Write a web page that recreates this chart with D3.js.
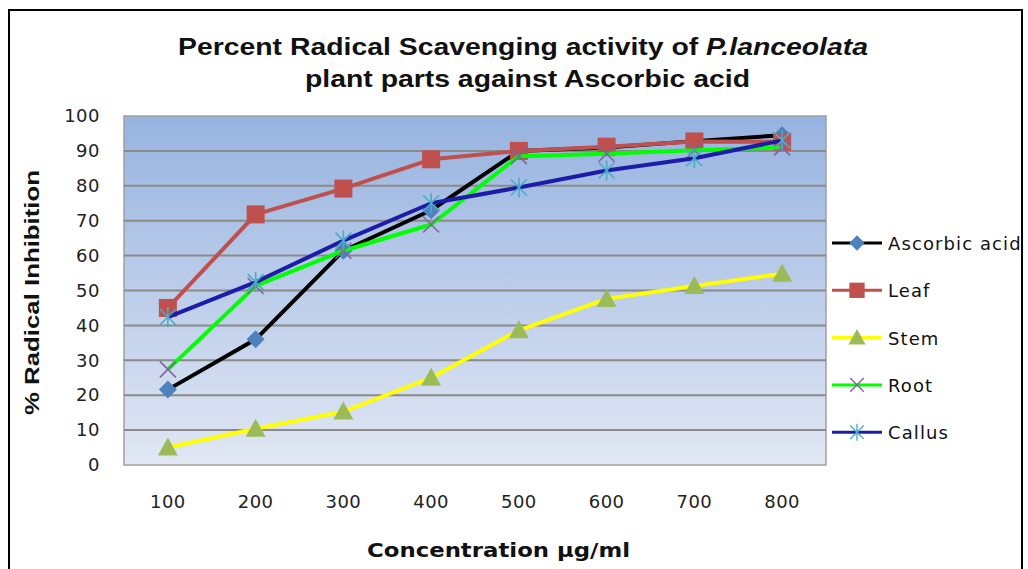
<!DOCTYPE html>
<html>
<head>
<meta charset="utf-8">
<script src="https://cdn.jsdelivr.net/npm/d3@7"></script>
<style>
  body { margin: 0; background: #fff; }
  svg { display: block; }
</style>
</head>
<body>
<div id="plot"></div>
<script>
// concentrations (x categories)
const concentrations = ["100", "200", "300", "400", "500", "600", "700", "800"];
const yTicks = [0, 10, 20, 30, 40, 50, 60, 70, 80, 90, 100];

const ascorbic = [21.6, 36, 61.4, 73, 90, 91, 92.8, 94.5];
const leaf     = [45, 71.8, 79.2, 87.6, 90, 91.2, 92.7, 92.6];
const stem     = [5, 10.4, 15.3, 25, 38.6, 47.6, 51.3, 54.8];
const root     = [27.4, 51.3, 61.4, 68.9, 88.5, 89.2, 90.2, 91];
const callus   = [42.4, 52.4, 64.3, 75, 79.5, 84.4, 87.9, 93];

const seriesNames = ["Ascorbic acid", "Leaf", "Stem", "Root", "Callus"];
const seriesValues = [ascorbic, leaf, stem, root, callus];
const lineColors = ["#000000", "#c0504d", "#ffff00", "#00ff00", "#1c1ca8"];
const markerColors = ["#4f81bd", "#c0504d", "#9bbb59", "#8064a2", "#4bacc6"];
const markerTypes = ["diamond", "square", "triangle", "x", "asterisk"];

const W = 1028, H = 569;
const margin = { top: 116, right: 202, bottom: 104, left: 124 };
const width = W - margin.left - margin.right;
const height = H - margin.top - margin.bottom;
const tickFont = "DejaVu Sans, Verdana, sans-serif";

const svg = d3.select("#plot").append("svg")
  .attr("width", W)
  .attr("height", H);

// outer frame
svg.append("path")
  .attr("d", `M9,${H + 5}V10H1022V${H + 5}`)
  .attr("fill", "none")
  .attr("stroke", "#000")
  .attr("stroke-width", 2);

const defs = svg.append("defs");
const grad = defs.append("linearGradient")
  .attr("id", "bg").attr("x1", 0).attr("y1", 0).attr("x2", 0).attr("y2", 1);
grad.append("stop").attr("offset", "0%").attr("stop-color", "#96b3e0");
grad.append("stop").attr("offset", "100%").attr("stop-color", "#e1e7f3");

const g = svg.append("g")
  .attr("transform", `translate(${margin.left},${margin.top})`);

const x = d3.scaleBand()
  .domain(concentrations)
  .range([0, width]);

const y = d3.scaleLinear()
  .domain([0, 100])
  .range([height, 0]);

g.append("rect")
  .attr("width", width)
  .attr("height", height)
  .attr("fill", "url(#bg)")
  .attr("stroke", "#a0a0a0")
  .attr("stroke-width", 1.5);

// gridlines
g.append("g")
  .selectAll("line")
  .data(yTicks.slice(1, -1))
  .join("line")
  .attr("x1", 0).attr("x2", width)
  .attr("y1", d => y(d)).attr("y2", d => y(d))
  .attr("stroke", "#8a8a8a")
  .attr("stroke-width", 2);

// y axis
const yAxis = g.append("g")
  .attr("transform", "translate(-24,0)")
  .call(d3.axisLeft(y).tickValues(yTicks).tickSize(0).tickPadding(0));
yAxis.select(".domain").remove();
yAxis.selectAll("text")
  .attr("font-family", tickFont)
  .attr("font-size", 18)
  .attr("letter-spacing", 0.5)
  .attr("fill", "#222");

// x axis
const xAxis = g.append("g")
  .attr("transform", `translate(0,${height + 30})`)
  .call(d3.axisBottom(x).tickSize(0).tickPadding(0));
xAxis.select(".domain").remove();
xAxis.selectAll("text")
  .attr("font-family", tickFont)
  .attr("font-size", 18)
  .attr("letter-spacing", 0.5)
  .attr("fill", "#222");

// marker shapes
function drawMarker(sel, type, color) {
  if (type === "diamond") {
    sel.append("path").attr("d", "M0,-9L9,0L0,9L-9,0Z").attr("fill", color);
  } else if (type === "square") {
    sel.append("rect").attr("x", -9).attr("y", -9).attr("width", 18).attr("height", 18).attr("fill", color);
  } else if (type === "triangle") {
    sel.append("path").attr("d", "M0,-10L10,8L-10,8Z").attr("fill", color);
  } else if (type === "x") {
    sel.append("path").attr("d", "M-8,-8L8,8M-8,8L8,-8").attr("stroke", color).attr("stroke-width", 1.6).attr("fill", "none");
  } else {
    sel.append("path").attr("d", "M-8,-8L8,8M-8,8L8,-8M0,-10V10").attr("stroke", color).attr("stroke-width", 1.6).attr("fill", "none");
  }
}

const line = d3.line()
  .x((d, i) => x(concentrations[i]) + x.bandwidth() / 2)
  .y(d => y(d));

seriesValues.forEach((vals, k) => {
  const sg = g.append("g");
  sg.append("path")
    .datum(vals)
    .attr("d", line)
    .attr("fill", "none")
    .attr("stroke", lineColors[k])
    .attr("stroke-width", 4)
    .attr("stroke-linejoin", "round");
  sg.selectAll("g.m")
    .data(vals)
    .join("g")
    .attr("class", "m")
    .attr("transform", (d, i) => `translate(${x(concentrations[i]) + x.bandwidth() / 2},${y(d)})`)
    .each(function() { drawMarker(d3.select(this), markerTypes[k], markerColors[k]); });
});

// legend
const legend = svg.append("g").attr("transform", "translate(832,243)");
seriesNames.forEach((name, k) => {
  const lg = legend.append("g").attr("transform", `translate(0,${k * 47.3})`);
  lg.append("line").attr("x1", 0).attr("x2", 50).attr("stroke", lineColors[k]).attr("stroke-width", 3);
  const mg = lg.append("g").attr("transform", "translate(25,0) scale(0.85)");
  drawMarker(mg, markerTypes[k], markerColors[k]);
  lg.append("text")
    .attr("x", 56).attr("y", 7)
    .attr("font-family", tickFont)
    .attr("font-size", 18)
    .attr("letter-spacing", 1.1)
    .attr("fill", "#111")
    .text(name);
});

// title, two lines stretched to the reference widths
const titleFont = "Liberation Sans, Arial, sans-serif";
const t1 = svg.append("text")
  .attr("x", 178).attr("y", 55)
  .attr("font-family", titleFont)
  .attr("font-weight", "bold")
  .attr("font-size", 23)
  .attr("textLength", 690)
  .attr("lengthAdjust", "spacingAndGlyphs")
  .attr("fill", "#111");
t1.append("tspan").text("Percent Radical Scavenging activity of ");
t1.append("tspan").attr("font-style", "italic").text("P.lanceolata");

svg.append("text")
  .attr("x", 305).attr("y", 87)
  .attr("font-family", titleFont)
  .attr("font-weight", "bold")
  .attr("font-size", 23)
  .attr("textLength", 445)
  .attr("lengthAdjust", "spacingAndGlyphs")
  .attr("fill", "#111")
  .text("plant parts against Ascorbic acid");

// axis titles
svg.append("text")
  .attr("x", 367).attr("y", 557)
  .attr("font-family", tickFont)
  .attr("font-weight", "bold")
  .attr("font-size", 19)
  .attr("textLength", 263)
  .attr("lengthAdjust", "spacingAndGlyphs")
  .attr("fill", "#111")
  .text("Concentration μg/ml");

svg.append("text")
  .attr("transform", "translate(39,415) rotate(-90)")
  .attr("font-family", titleFont)
  .attr("font-weight", "bold")
  .attr("font-size", 21)
  .attr("textLength", 245)
  .attr("lengthAdjust", "spacingAndGlyphs")
  .attr("fill", "#111")
  .text("% Radical Inhibition");
</script>
</body>
</html>
